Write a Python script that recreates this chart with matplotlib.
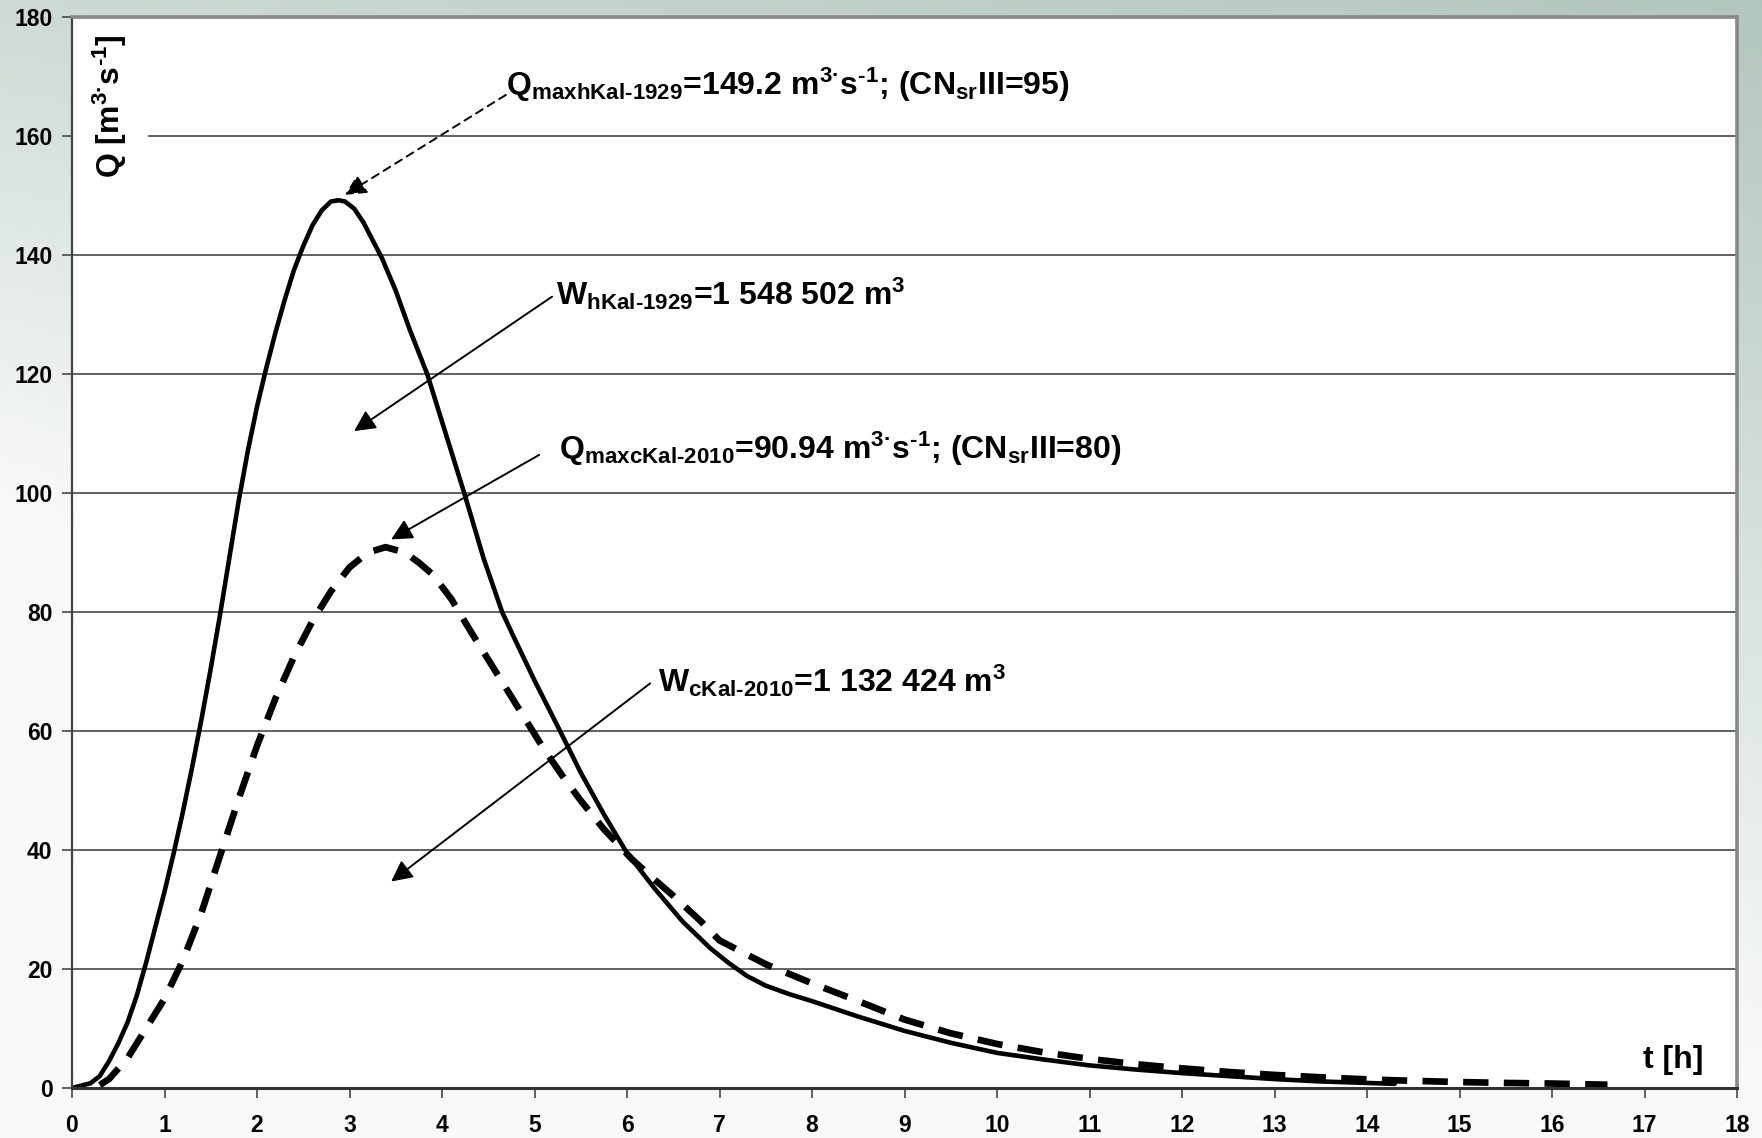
import numpy as np
import matplotlib
matplotlib.use("Agg")
import matplotlib.pyplot as plt

# ---------------- data ----------------
t_h1929 = [0, 0.2, 0.3, 0.4, 0.5, 0.6, 0.7, 0.8, 0.9, 1.0, 1.1, 1.2, 1.3, 1.4, 1.5, 1.6,
           1.7, 1.8, 1.9, 2.0, 2.1, 2.2, 2.3, 2.4, 2.5, 2.6, 2.7, 2.8, 2.88, 2.95, 3.05,
           3.15, 3.25, 3.35, 3.5, 3.65, 3.84, 4.0, 4.24, 4.45, 4.65, 4.8, 5.0, 5.26, 5.5,
           5.75, 6.0, 6.3, 6.6, 6.9, 7.1, 7.3, 7.5, 7.75, 8.0, 8.5, 9.0, 9.5, 10.0,
           10.5, 11.0, 11.5, 12.0, 12.5, 13.0, 13.5, 14.0, 14.3]
q_h1929 = [0, 0.8, 2, 4.5, 7.5, 11, 15.5, 21, 27, 33, 39.5, 46.5, 54, 62, 70.5, 79.5,
           89, 98.5, 107, 114.5, 121, 127, 132.5, 137.5, 141.5, 145, 147.5, 149, 149.2, 149, 147.8,
           145.5, 142.5, 139.5, 134, 127.5, 120, 112, 100, 89, 80, 75, 68.5, 60.5, 53,
           46, 39.5, 33.5, 28, 23.5, 21, 18.8, 17.2, 15.8, 14.6, 12, 9.6, 7.6, 5.9,
           4.8, 3.8, 3.1, 2.5, 2.0, 1.5, 1.1, 0.85, 0.7]

t_c2010 = [0.3, 0.4, 0.6, 0.8, 1.0, 1.2, 1.4, 1.6, 1.8, 2.0, 2.2, 2.4, 2.6, 2.8, 3.0,
           3.2, 3.39, 3.6, 3.75, 3.9, 4.1, 4.3, 4.5, 4.7, 4.9, 5.1, 5.3, 5.5, 5.75, 6.05,
           6.3, 6.5, 6.8, 7.0, 7.5, 7.75, 8.0, 8.5, 9.0, 9.5, 10.0, 10.5, 11.0, 11.5, 12.0,
           12.5, 13.0, 13.5, 14.0, 14.5, 15.0, 15.5, 16.0, 16.6]
q_c2010 = [0.5, 1.5, 5, 10, 15, 21.5, 29.5, 39, 48.5, 57.5, 65.5, 72.5, 78.5, 83.5, 87.5,
           90, 90.9, 90, 88.3, 86.3, 82.2, 77, 72, 67, 62, 57, 52.5, 48.3, 43.5, 38.5,
           35, 32.3, 28, 24.8, 20.8, 19.2, 17.6, 14.6, 11.5, 9.2, 7.4, 6.0, 4.9, 4.0, 3.3,
           2.7, 2.2, 1.8, 1.45, 1.2, 1.0, 0.85, 0.75, 0.55]

x_ticks = list(range(0, 19))
y_ticks = list(range(0, 181, 20))

label_qmaxh = r'$Q_{maxhKal\text{-}1929}$=149.2 m$^{3·}$s$^{\text{-}1}$; (CN$_{sr}$III=95)'
label_wh = r'$W_{hKal\text{-}1929}$=1 548 502 m$^{3}$'
label_qmaxc = r'$Q_{maxcKal\text{-}2010}$=90.94 m$^{3·}$s$^{\text{-}1}$; (CN$_{sr}$III=80)'
label_wc = r'$W_{cKal\text{-}2010}$=1 132 424 m$^{3}$'
ylabel_txt = r'Q [m$^{3·}$s$^{\text{-}1}$]'
xlabel_txt = 't [h]'

# ---------------- style ----------------
fam = 'Liberation Sans'
fs, fs_tick = 23, 16.5

plt.rcParams['font.family'] = [fam, 'DejaVu Sans']
plt.rcParams['font.weight'] = 'bold'
plt.rcParams['mathtext.fontset'] = 'custom'
plt.rcParams['mathtext.rm'] = fam + ':bold'
plt.rcParams['mathtext.it'] = fam + ':bold'
plt.rcParams['mathtext.bf'] = fam + ':bold'
plt.rcParams['mathtext.default'] = 'rm'

W, H = 1762, 1138
fig = plt.figure(figsize=(W / 100, H / 100), dpi=100)

# background gradient
bg = fig.add_axes([0, 0, 1, 1], zorder=-10)
gx = np.linspace(0, 1, 400)[None, :]
gy = np.linspace(0, 1, 300)[:, None]
w = np.clip(1 - gy / (0.45 + 0.5 * gx), 0, 1) * (0.62 + 0.38 * gx)
green = np.array([0.70, 0.776, 0.745])
light = np.array([0.975, 0.982, 0.978])
img = light[None, None, :] * (1 - w[..., None]) + green[None, None, :] * w[..., None]
bg.imshow(img, extent=[0, 1, 0, 1], aspect='auto', origin='upper')
bg.set_axis_off()

left, right = 72 / W, 1737 / W
top, bottom = 1 - 17 / H, 1 - 1088 / H
ax = fig.add_axes([left, bottom, right - left, top - bottom])
ax.set_facecolor('white')

ax.plot(t_h1929, q_h1929, color='black', lw=3.3, solid_capstyle='round',
        solid_joinstyle='round', zorder=4)
ax.plot(t_c2010, q_c2010, color='black', lw=4.8, linestyle=(0, (3.8, 2.3)),
        dash_capstyle='butt', zorder=4)

ax.set_xlim(0, 18)
ax.set_ylim(0, 180)
ax.set_xticks(x_ticks)
ax.set_yticks(y_ticks)
ax.yaxis.grid(True, color='#555555', lw=1.3)
ax.set_axisbelow(True)

ax.tick_params(axis='y', direction='out', length=7, width=1.3, color='#555555',
               labelsize=fs_tick, pad=7)
ax.tick_params(axis='x', direction='out', length=7, width=1.3, color='#555555',
               labelsize=fs_tick, pad=12)
for lab in ax.get_xticklabels() + ax.get_yticklabels():
    lab.set_fontweight('bold')

ax.spines['left'].set_color('#444444')
ax.spines['left'].set_linewidth(1.6)
ax.spines['bottom'].set_color('#333333')
ax.spines['bottom'].set_linewidth(2.2)
for s in ['top', 'right']:
    ax.spines[s].set_color('#888888')
    ax.spines[s].set_linewidth(2.6)
for s in ax.spines.values():
    s.set_zorder(6)

# axis labels inside the plot
ax.text(0.41, 165, ylabel_txt, rotation=90, fontsize=fs, fontweight='bold',
        ha='center', va='center', zorder=5, clip_on=True,
        bbox=dict(facecolor='white', edgecolor='none', boxstyle='square,pad=0.6'))
ax.text(17.64, 3.4, xlabel_txt, fontsize=fs, fontweight='bold', ha='right',
        va='baseline', zorder=5)

# annotations
ax.text(4.69, 166.9, label_qmaxh, fontsize=fs, fontweight='bold', ha='left', va='baseline')
ax.text(5.23, 131.6, label_wh, fontsize=fs, fontweight='bold', ha='left', va='baseline')
ax.text(5.26, 105.7, label_qmaxc, fontsize=fs, fontweight='bold', ha='left', va='baseline')
ax.text(6.33, 66.6, label_wc, fontsize=fs, fontweight='bold', ha='left', va='baseline')

arrow_kw = dict(arrowstyle='-|>', color='black', lw=1.4, mutation_scale=32,
                shrinkA=0, shrinkB=0)
ax.annotate('', xy=(2.95, 150.1), xytext=(4.69, 166.9),
            arrowprops=dict(arrow_kw, linestyle=(0, (4, 3))))
ax.annotate('', xy=(3.05, 110.4), xytext=(5.19, 133.0), arrowprops=arrow_kw)
ax.annotate('', xy=(3.45, 92.2), xytext=(5.05, 106.4), arrowprops=arrow_kw)
ax.annotate('', xy=(3.45, 34.7), xytext=(6.25, 68.0), arrowprops=arrow_kw)

fig.savefig('out.png', dpi=100)
